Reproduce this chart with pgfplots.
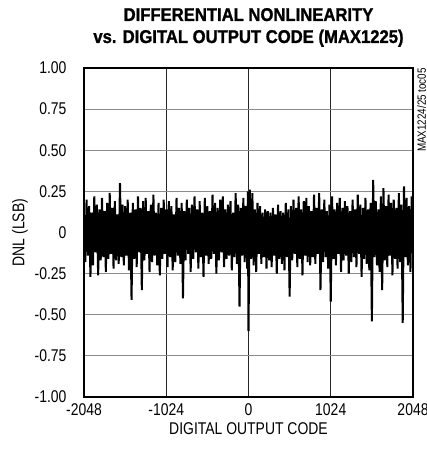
\documentclass[border=0pt]{standalone}
\usepackage{pgfplots}
\pgfplotsset{compat=1.18}
\usepackage{fontspec}
\setmainfont{Liberation Sans}[FakeStretch=0.82]
\newfontfamily\titlefont{Liberation Sans Bold}[FakeStretch=0.9, FakeBold=1.2]

\begin{document}
\begin{tikzpicture}
\begin{axis}[
    scale only axis,
    width=329pt, height=329pt,
    xmin=-2048, xmax=2048,
    ymin=-1, ymax=1,
    xtick={-2048,-1024,0,1024,2048},
    xticklabels={-2048,-1024,0,1024,2048},
    ytick={-1,-0.75,-0.5,-0.25,0,0.25,0.5,0.75,1},
    yticklabels={-1.00,-0.75,-0.50,-0.25,0,0.25,0.50,0.75,1.00},
    major tick length=0pt,
    grid=major,
    x grid style={black!85, line width=0.8pt},
    y grid style={gray!90, line width=1.1pt},
    axis line style={line width=2.2pt},
    /pgf/number format/assume math mode=true,
    ticklabel style={font=\fontsize{17}{20}\selectfont},
    yticklabel style={xshift=-14pt},
    xticklabel style={yshift=-3pt},
    xlabel={DIGITAL OUTPUT CODE},
    ylabel={DNL (LSB)},
    label style={font=\fontsize{17}{20}\selectfont},
    xlabel style={at={(axis description cs:0.5,-0.1155)}, anchor=base},
    ylabel style={at={(axis description cs:-0.1945,0.5)}, anchor=center},
]
\addplot[black, line width=2pt, mark=none] coordinates {
(-2048,0.05) (-2032,-0.18) (-2016,0.20) (-2000,-0.14) (-1984,0.16) (-1968,-0.27) (-1952,0.12) (-1936,-0.20)
(-1920,0.22) (-1904,-0.12) (-1888,0.17) (-1872,-0.26) (-1856,0.14) (-1840,-0.17) (-1824,0.21) (-1808,-0.15)
(-1792,0.13) (-1776,-0.24) (-1760,0.18) (-1744,-0.16) (-1728,0.24) (-1712,-0.13) (-1696,0.15) (-1680,-0.22)
(-1664,0.19) (-1648,-0.17) (-1632,0.11) (-1616,-0.19) (-1600,0.30) (-1584,-0.15) (-1568,0.17) (-1552,-0.20)
(-1536,0.16) (-1520,-0.14) (-1504,0.20) (-1488,-0.23) (-1472,0.12) (-1456,-0.41) (-1440,0.18) (-1424,-0.16)
(-1408,0.14) (-1392,-0.21) (-1376,0.22) (-1360,-0.12) (-1344,0.15) (-1328,-0.35) (-1312,0.19) (-1296,-0.17)
(-1280,0.21) (-1264,-0.13) (-1248,0.13) (-1232,-0.24) (-1216,0.17) (-1200,-0.18) (-1184,0.23) (-1168,-0.14)
(-1152,0.12) (-1136,-0.20) (-1120,0.18) (-1104,-0.26) (-1088,0.15) (-1072,-0.16) (-1056,0.20) (-1040,-0.13)
(-1024,0.14) (-1008,-0.21) (-992,0.19) (-976,-0.15) (-960,0.16) (-944,-0.23) (-928,0.11) (-912,-0.18)
(-896,0.21) (-880,-0.14) (-864,0.15) (-848,-0.19) (-832,0.18) (-816,-0.40) (-800,0.13) (-784,-0.17)
(-768,0.20) (-752,-0.13) (-736,0.15) (-720,-0.24) (-704,0.17) (-688,-0.16) (-672,0.22) (-656,-0.12)
(-640,0.14) (-624,-0.22) (-608,0.19) (-592,-0.15) (-576,0.12) (-560,-0.27) (-544,0.21) (-528,-0.14)
(-512,0.16) (-496,-0.19) (-480,0.13) (-464,-0.16) (-448,0.23) (-432,-0.13) (-416,0.18) (-400,-0.25)
(-384,0.15) (-368,-0.17) (-352,0.20) (-336,-0.12) (-320,0.22) (-304,-0.21) (-288,0.14) (-272,-0.16)
(-256,0.17) (-240,-0.14) (-224,0.19) (-208,-0.23) (-192,0.12) (-176,-0.15) (-160,0.24) (-144,-0.19)
(-128,0.17) (-112,-0.45) (-96,0.15) (-80,-0.14) (-64,0.21) (-48,-0.18) (-32,0.16) (-16,-0.22) (-8,0.25)
(0,-0.60) (16,0.26) (32,-0.16) (48,0.24) (64,-0.20) (80,0.14) (96,-0.24) (112,0.18)
(128,-0.13) (144,0.16) (160,-0.19) (176,0.12) (192,-0.15) (208,0.14) (224,-0.22) (240,0.13)
(256,-0.17) (272,0.12) (288,-0.21) (304,0.15) (320,-0.14) (336,0.11) (352,-0.25) (368,0.17)
(384,-0.16) (400,0.13) (416,-0.19) (432,0.12) (448,-0.23) (464,0.18) (480,-0.15) (496,0.14)
(512,-0.39) (528,0.16) (544,-0.17) (560,0.20) (576,-0.13) (592,0.15) (608,-0.21) (624,0.22)
(640,-0.16) (656,0.14) (672,-0.26) (688,0.19) (704,-0.14) (720,0.21) (736,-0.18) (752,0.16)
(768,-0.20) (784,0.13) (800,-0.15) (816,0.23) (832,-0.19) (848,0.15) (864,-0.13) (880,0.24)
(896,-0.35) (912,0.14) (928,-0.18) (944,0.20) (960,-0.15) (976,0.13) (992,-0.22) (1008,0.17)
(1024,-0.42) (1040,0.22) (1056,-0.16) (1072,0.14) (1088,-0.20) (1104,0.18) (1120,-0.13) (1136,0.21)
(1152,-0.24) (1168,0.15) (1184,-0.17) (1200,0.19) (1216,-0.14) (1232,0.16) (1248,-0.25) (1264,0.13)
(1280,-0.18) (1296,0.20) (1312,-0.15) (1328,0.14) (1344,-0.21) (1360,0.23) (1376,-0.13) (1392,0.17)
(1408,-0.27) (1424,0.15) (1440,-0.16) (1456,0.21) (1472,-0.19) (1488,0.14) (1504,-0.23) (1520,0.18)
(1536,-0.54) (1552,0.32) (1568,-0.15) (1584,0.19) (1600,-0.20) (1616,0.14) (1632,-0.24) (1648,0.22)
(1664,-0.35) (1680,0.27) (1696,-0.17) (1712,0.16) (1728,-0.21) (1744,0.23) (1760,-0.14) (1776,0.18)
(1792,-0.26) (1808,0.20) (1824,-0.16) (1840,0.15) (1856,-0.22) (1872,0.24) (1888,-0.18) (1904,0.17)
(1920,-0.55) (1936,0.28) (1952,-0.15) (1968,0.21) (1984,-0.20) (2000,0.16) (2016,-0.24) (2032,0.22)
(2048,-0.10)
};
\end{axis}
% title, two centred lines above the box
\node[anchor=base, font=\titlefont\fontsize{18.5}{22}\selectfont] at (164.5pt,376pt) {DIFFERENTIAL NONLINEARITY};
\node[anchor=base, font=\titlefont\fontsize{18.5}{22}\selectfont] at (164.5pt,354pt) {vs. DIGITAL OUTPUT CODE (MAX1225)};
% figure id at the right edge
\node[rotate=90, anchor=east, inner sep=0pt, font=\fontsize{12}{13}\selectfont] at (337.5pt,329pt) {MAX1224/25 toc05};
\pgfresetboundingbox
\path[use as bounding box] (-84pt,-63pt) rectangle (343pt,397pt);
\end{tikzpicture}
\end{document}
